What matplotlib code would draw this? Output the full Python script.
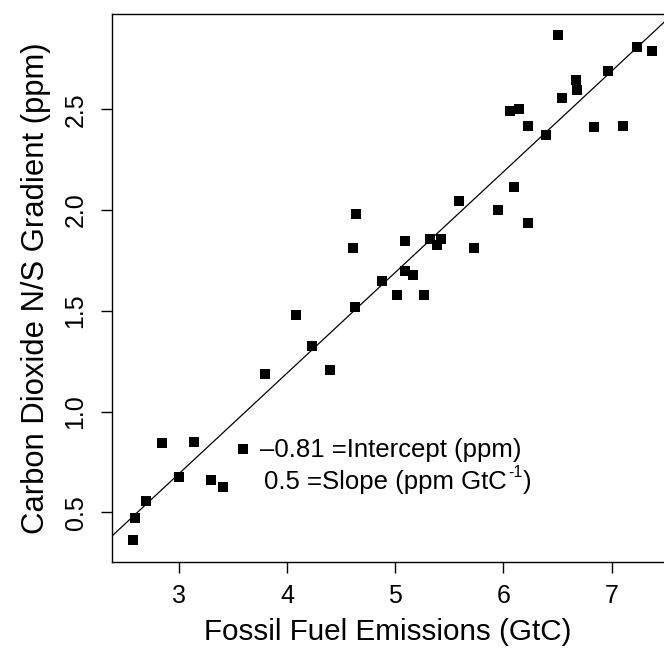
import matplotlib
matplotlib.use("Agg")
import matplotlib.pyplot as plt

plt.rcParams['font.family'] = ['Liberation Sans', 'DejaVu Sans']

# Data
emissions = [4.64, 4.61, 4.88, 5.02, 4.63, 4.08,
             6.50, 7.23, 7.37, 6.97, 6.67, 6.68, 6.54, 6.06, 6.14, 6.23,
             6.84, 7.10, 6.39, 6.10, 5.59, 5.95, 6.23, 5.09, 5.32, 5.42,
             5.39, 5.73, 5.09, 5.16, 5.27,
             4.23, 3.80, 4.40, 2.85, 3.14, 3.59, 3.00, 3.30, 3.41, 2.70,
             2.60, 2.58]
gradient = [1.98, 1.81, 1.65, 1.58, 1.52, 1.48,
            2.87, 2.81, 2.79, 2.69, 2.645, 2.596, 2.554, 2.49, 2.50, 2.416,
            2.41, 2.416, 2.373, 2.114, 2.046, 2.00, 1.935, 1.848, 1.858, 1.858,
            1.828, 1.812, 1.696, 1.68, 1.58,
            1.325, 1.188, 1.208, 0.842, 0.847, 0.812, 0.676, 0.662, 0.624, 0.556,
            0.47, 0.36]
intercept = -0.81
slope = 0.5
x_ticks = [3, 4, 5, 6, 7]
y_ticks = [0.5, 1.0, 1.5, 2.0, 2.5]
y_tick_labels = ["0.5", "1.0", "1.5", "2.0", "2.5"]

fig = plt.figure(figsize=(6.64, 6.51), dpi=100)
ax = fig.add_axes([112/664, 89/651, 1 - 112/664, (562 - 14)/651])

ax.scatter(emissions, gradient, marker='s', s=62, color='black', linewidths=0, zorder=3)
ax.axline((0, intercept), slope=slope, color='black', lw=0.9, zorder=2)

ax.set_xlim(2.384, 7.483)
ax.set_ylim(0.253, 2.973)
ax.set_xticks(x_ticks)
ax.set_xticklabels([str(t) for t in x_ticks])
ax.set_yticks(y_ticks)
ax.set_yticklabels(y_tick_labels, rotation=90, va='center')

ax.tick_params(axis='both', direction='out', length=7.6, width=1.0,
               labelsize=18, colors='black')
ax.tick_params(axis='x', pad=8.5)
ax.tick_params(axis='y', pad=10)
for s in ['left', 'top', 'bottom']:
    ax.spines[s].set_linewidth(1.0)
ax.spines['right'].set_visible(False)

ax.set_xlabel("Fossil Fuel Emissions (GtC)", fontsize=21.3, labelpad=7)
ax.set_ylabel("Carbon Dioxide N/S Gradient (ppm)", fontsize=22.3, labelpad=9)

ax.text(3.751, 0.776, "\u2013" + str(abs(intercept)) + " =Intercept (ppm)",
        fontsize=18.5, va='baseline', ha='left')
t1 = ax.text(3.788, 0.614, str(slope) + " =Slope (ppm GtC",
             fontsize=18.5, va='baseline', ha='left')
t2 = ax.annotate("-1", xy=(1, 0), xycoords=t1, xytext=(0.8, 10.5),
                 textcoords='offset points', fontsize=11.5, va='bottom', ha='left')
ax.annotate(")", xy=(1, 0), xycoords=(t2, t1), xytext=(0.5, 0),
            textcoords='offset points', fontsize=18.5, va='bottom', ha='left')

fig.savefig("out.png", dpi=100)
